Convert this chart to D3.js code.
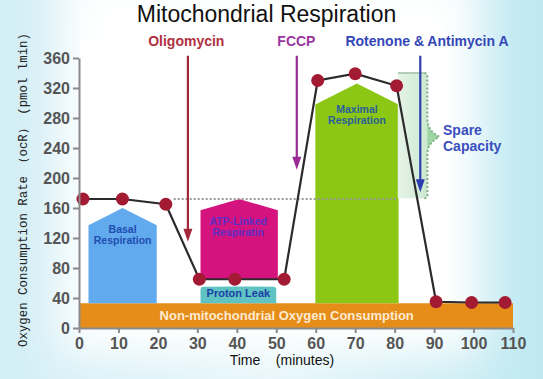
<!DOCTYPE html>
<html>
<head>
<meta charset="utf-8">
<script src="https://cdn.jsdelivr.net/npm/d3@7"></script>
<style>
  html, body { margin: 0; padding: 0; background: #fff; }
  svg { display: block; }
</style>
</head>
<body>
<div id="chart"></div>
<script>
// ---------- data ----------
const times = [1, 11, 22, 30.5, 39.5, 52, 60.5, 70, 80.5, 90.5, 99.5, 108];
const ocr   = [172, 172, 165, 65, 65, 65, 330, 339, 323, 35, 34, 34];

const xTicks = [0, 10, 20, 30, 40, 50, 60, 70, 80, 90, 100, 110];
const yTicks = [0, 40, 80, 120, 160, 200, 240, 280, 320, 360];

// respiration components (time / OCR units)
const regionLines    = [["Basal", "Respiration"], ["ATP-Linked", "Respiratin"], ["Proton Leak"], ["Maximal", "Respiration"]];
const regionStart    = [2.4, 30.8, 30.8, 59.9];
const regionEnd      = [19.7, 50.4, 50.0, 81.0];
const regionBase     = [33, 65, 33, 33];
const regionShoulder = [137, 157, 55, 298];
const regionPeak     = [160, 172, 56, 326];

const nonMitoLabel = "Non-mitochondrial Oxygen Consumption";
const nonMitoLevel = 33;

const spareLabel = ["Spare", "Capacity"];
const spareStart = 80.8, spareEnd = 88.3, spareLow = 173, spareHigh = 340, spareMid = 255;

const basalRef = 172, basalRefStart = 24, basalRefEnd = 80.5;

// injections
const treatments  = ["Oligomycin", "FCCP", "Rotenone & Antimycin A"];
const injectTimes = [27.6, 55.2, 86.5];
const labelTimes  = [27.2, 55.1, 88.2];
const arrowTop    = 363;
const arrowTips   = [115, 211, 181];

// ---------- layout ----------
const W = 543, H = 379;
const svg = d3.select("#chart").append("svg").attr("width", W).attr("height", H);
const defs = svg.append("defs");

const x = d3.scaleLinear().domain([0, 110]).range([79, 513]);
const y = d3.scaleLinear().domain([0, 360]).range([328, 58]);

// background
const blur = defs.append("filter").attr("id", "soft").attr("x", "-20%").attr("y", "-20%").attr("width", "140%").attr("height", "140%");
blur.append("feGaussianBlur").attr("stdDeviation", 22);
const bgGrad = defs.append("linearGradient").attr("id", "bg").attr("x1", 0).attr("x2", 1).attr("y1", 0).attr("y2", 0);
bgGrad.append("stop").attr("offset", 0).attr("stop-color", "#d3eef6");
bgGrad.append("stop").attr("offset", 0.5).attr("stop-color", "#e6f6fa");
bgGrad.append("stop").attr("offset", 1).attr("stop-color", "#bfe9f1");
svg.append("rect").attr("width", W).attr("height", H).attr("fill", "url(#bg)");
svg.append("rect").attr("x", 60).attr("y", -30).attr("width", 420).attr("height", 385)
  .attr("fill", "#ffffff").attr("filter", "url(#soft)");
svg.append("rect").attr("x", 80).attr("y", 40).attr("width", 370).attr("height", 290).attr("fill", "#ffffff");

// non-mitochondrial band
svg.append("rect")
  .attr("x", x(0)).attr("y", y(nonMitoLevel))
  .attr("width", x(110) - x(0)).attr("height", y(0) - y(nonMitoLevel))
  .attr("fill", "#e58c19");

// components
const fills = ["#62aaee", "#d5137f", "#5ec3c2", "#8cc715"];
const textCols = ["#1f4db0", "#5b2fc4", "#1d3fa5", "#2a5f98"];
regionStart.forEach((s, i) => {
  const e = regionEnd[i], m = (s + e) / 2;
  let d;
  if (i === 2) {
    const r = 3;
    d = `M${x(s)},${y(regionBase[i])} L${x(s)},${y(regionShoulder[i]) + r}
         Q${x(s)},${y(regionShoulder[i])} ${x(s) + r},${y(regionShoulder[i])}
         Q${x(m)},${y(regionPeak[i])} ${x(e) - r},${y(regionShoulder[i])}
         Q${x(e)},${y(regionShoulder[i])} ${x(e)},${y(regionShoulder[i]) + r}
         L${x(e)},${y(regionBase[i])} Z`;
  } else {
    d = `M${x(s)},${y(regionBase[i])} L${x(s)},${y(regionShoulder[i])} L${x(m)},${y(regionPeak[i])}
         L${x(e)},${y(regionShoulder[i])} L${x(e)},${y(regionBase[i])} Z`;
  }
  svg.append("path").attr("d", d).attr("fill", fills[i]);
});

// spare capacity region
const spGrad = defs.append("linearGradient").attr("id", "spare").attr("x1", 0).attr("x2", 1).attr("y1", 0).attr("y2", 0);
spGrad.append("stop").attr("offset", 0).attr("stop-color", "#e6f4e8");
spGrad.append("stop").attr("offset", 1).attr("stop-color", "#c2e4c7");
const sx0 = x(spareStart), sx1 = x(spareEnd), sy0 = y(spareHigh), sy1 = y(spareLow), sym = y(spareMid);
const tip = x(spareEnd + 3);
svg.append("path")
  .attr("d", `M${sx0},${sy0} L${sx1 - 3},${sy0} Q${sx1},${sy0} ${sx1},${sy0 + 4}
              L${sx1},${sym - 18} Q${sx1},${sym - 6} ${tip},${sym}
              Q${sx1},${sym + 6} ${sx1},${sym + 18}
              L${sx1},${sy1 - 4} Q${sx1},${sy1} ${sx1 - 3},${sy1} L${sx0},${sy1} Z`)
  .attr("fill", "url(#spare)");
svg.append("path")
  .attr("d", `M${sx1},${sym - 16} Q${sx1},${sym - 6} ${tip},${sym} Q${sx1},${sym + 6} ${sx1},${sym + 16} Z`)
  .attr("fill", "#9fd6a6");
svg.append("path")
  .attr("d", `M${sx1 - 3},${sy0} Q${sx1},${sy0} ${sx1},${sy0 + 4}
              L${sx1},${sym - 18} Q${sx1},${sym - 6} ${tip},${sym}
              Q${sx1},${sym + 6} ${sx1},${sym + 18}
              L${sx1},${sy1 - 4} Q${sx1},${sy1} ${sx1 - 3},${sy1}`)
  .attr("fill", "none").attr("stroke", "#7fae86").attr("stroke-width", 2).attr("stroke-dasharray", "2,2");
svg.append("line").attr("x1", sx0).attr("x2", sx1 - 3).attr("y1", sy0).attr("y2", sy0)
  .attr("stroke", "#9fbfa3").attr("stroke-width", 1.5);

// basal reference dotted line
svg.append("line")
  .attr("x1", x(basalRefStart)).attr("x2", x(basalRefEnd))
  .attr("y1", y(basalRef)).attr("y2", y(basalRef))
  .attr("stroke", "#9a9a9a").attr("stroke-width", 2).attr("stroke-dasharray", "2,2");

// injection arrows
const arrowCols = ["#a3283c", "#9a2a94", "#2d3fae"];
const labelCols = ["#b0303f", "#9b35a0", "#3447b8"];
treatments.forEach((t, i) => {
  const ax = x(injectTimes[i]), y0 = y(arrowTop), y1 = y(arrowTips[i]);
  svg.append("line").attr("x1", ax).attr("x2", ax).attr("y1", y0).attr("y2", y1 - 10)
    .attr("stroke", arrowCols[i]).attr("stroke-width", 2.2);
  svg.append("path").attr("d", `M${ax - 4.5},${y1 - 13} L${ax + 4.5},${y1 - 13} L${ax},${y1} Z`)
    .attr("fill", arrowCols[i]);
  svg.append("text").attr("x", x(labelTimes[i])).attr("y", 46)
    .attr("text-anchor", "middle")
    .style("font", "bold 14px 'Liberation Sans', Arial, sans-serif")
    .attr("fill", labelCols[i]).text(t);
});

// OCR line and points
const pts = times.map((t, i) => [t, ocr[i]]);
svg.append("path").datum(pts)
  .attr("d", d3.line().x(d => x(d[0])).y(d => y(d[1])))
  .attr("fill", "none").attr("stroke", "#2b2b2b").attr("stroke-width", 2.2);
svg.selectAll("circle.pt").data(pts).join("circle").attr("class", "pt")
  .attr("cx", d => x(d[0])).attr("cy", d => y(d[1])).attr("r", 6.5)
  .attr("fill", "#a31b33");

// region labels
const labelFont = "bold 10.5px 'Liberation Sans', Arial, sans-serif";
regionLines.forEach((lines, i) => {
  const m = (regionStart[i] + regionEnd[i]) / 2;
  let baseY;
  if (i === 0) baseY = 233;
  else if (i === 1) baseY = 225;
  else if (i === 2) baseY = 297;
  else baseY = 113;
  lines.forEach((ln, j) => {
    svg.append("text").attr("x", i === 1 ? x(m) - 1 : x(m)).attr("y", baseY + j * 11)
      .attr("text-anchor", "middle")
      .style("font", i === 2 ? "bold 11px 'Liberation Sans', Arial, sans-serif" : labelFont)
      .attr("fill", textCols[i]).text(ln);
  });
});

svg.append("text").attr("x", 286.7).attr("y", 320).attr("text-anchor", "middle")
  .style("font", "bold 13px 'Liberation Sans', Arial, sans-serif")
  .attr("fill", "#fdebd0").text(nonMitoLabel);

spareLabel.forEach((s, j) => {
  svg.append("text").attr("x", 443).attr("y", 135 + j * 16)
    .style("font", "bold 14px 'Liberation Sans', Arial, sans-serif")
    .attr("fill", "#3a4fbf").text(s);
});

// axes
const axisCol = "#8a8a8a";
const gy = svg.append("g").attr("transform", `translate(${x(0)},0)`)
  .call(d3.axisLeft(y).tickValues(yTicks).tickSize(6).tickSizeOuter(0).tickPadding(3));
const gx = svg.append("g").attr("transform", `translate(0,${y(0)})`)
  .call(d3.axisBottom(x).tickValues(xTicks).tickSize(5).tickSizeOuter(0).tickPadding(5));
[gx, gy].forEach(g => {
  g.select(".domain").attr("stroke", axisCol).attr("stroke-width", 2);
  g.selectAll(".tick line").attr("stroke", axisCol).attr("stroke-width", 2);
  g.selectAll(".tick text")
    .style("font", "bold 16px 'Liberation Sans', Arial, sans-serif")
    .attr("fill", "#555");
});

// axis titles
svg.append("text").attr("x", 245).attr("y", 365).attr("text-anchor", "middle")
  .style("font", "14px 'Liberation Sans', Arial, sans-serif").attr("fill", "#111").text("Time");
svg.append("text").attr("x", 305).attr("y", 365).attr("text-anchor", "middle")
  .style("font", "14px 'Liberation Sans', Arial, sans-serif").attr("fill", "#111").text("(minutes)");

svg.append("text")
  .attr("transform", "translate(27,190) rotate(-90)")
  .attr("text-anchor", "middle")
  .style("font", "12.4px 'Liberation Mono', 'DejaVu Sans Mono', monospace")
  .attr("fill", "#222")
  .text("Oxygen Consumption Rate （ocR） (pmol lmin)");

// title
svg.append("text").attr("x", 266.5).attr("y", 22).attr("text-anchor", "middle")
  .style("font", "23px 'Liberation Sans', Arial, sans-serif")
  .attr("fill", "#111").text("Mitochondrial Respiration");
</script>
</body>
</html>
